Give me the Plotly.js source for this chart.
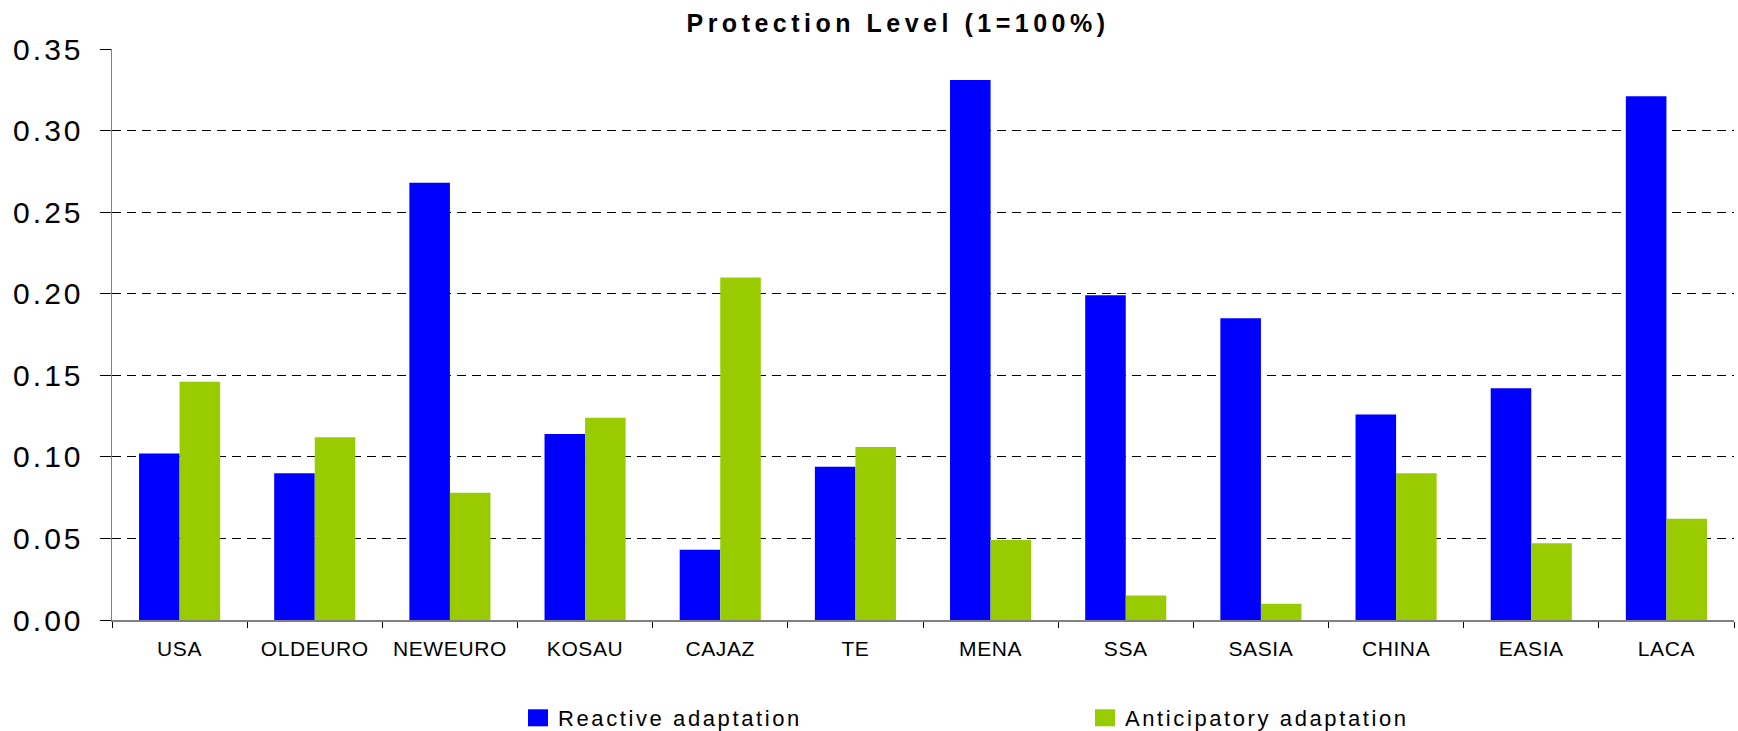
<!DOCTYPE html>
<html>
<head>
<meta charset="utf-8">
<script src="https://cdn.plot.ly/plotly-3.0.1.min.js"></script>
<style>
  html, body { margin: 0; padding: 0; background: #fff; }
  #chart { width: 1738px; height: 731px; }
  .gtitle { letter-spacing: 4.5px; }
  [class*="legend"] text { letter-spacing: 2.6px; }
  .legendpoints path { d: path("M10,8.5H-10V-8.5H10Z"); }
  .ytick text { letter-spacing: 3px; }
  .xtick text { letter-spacing: 0.6px; }
</style>
</head>
<body>
<div id="chart"></div>
<script>
// Regions shown along the category axis
const regions = ["USA", "OLDEURO", "NEWEURO", "KOSAU", "CAJAZ", "TE", "MENA", "SSA", "SASIA", "CHINA", "EASIA", "LACA"];

// Protection level per region (1 = 100%)
const reactive     = [0.102, 0.090, 0.268, 0.114, 0.043, 0.094, 0.331, 0.199, 0.185, 0.126, 0.142, 0.321];
const anticipatory = [0.146, 0.112, 0.078, 0.124, 0.210, 0.106, 0.049, 0.015, 0.010, 0.090, 0.047, 0.062];

// Value axis ticks
const yTicks = [0.00, 0.05, 0.10, 0.15, 0.20, 0.25, 0.30, 0.35];
const yTickText = yTicks.map(v => v.toFixed(2));

const W = 1738, H = 731;
const baseFont = "Liberation Sans, Arial, sans-serif";

const traces = [
  {
    type: "bar", name: "Reactive adaptation",
    x: regions, y: reactive,
    marker: { color: "#0000FF", line: { width: 0 } },
    legend: "legend"
  },
  {
    type: "bar", name: "Anticipatory adaptation",
    x: regions, y: anticipatory,
    marker: { color: "#99CC00", line: { width: 0 } },
    legend: "legend2"
  }
];

const legendFont = { family: baseFont, size: 22, color: "#000000" };

const layout = {
  width: W, height: H,
  paper_bgcolor: "#ffffff",
  plot_bgcolor: "#ffffff",
  font: { family: baseFont, color: "#000000" },
  margin: { l: 112, r: 4, t: 49, b: 111, pad: 0 },
  barmode: "group",
  bargap: 0.40,
  bargroupgap: 0,
  title: {
    text: "<b>Protection Level (1=100%)</b>",
    font: { family: baseFont, size: 25, color: "#000000" },
    xref: "container", x: 898 / W, xanchor: "center",
    yref: "container", y: 1 - 23 / H, yanchor: "middle"
  },
  xaxis: {
    type: "category",
    tickson: "boundaries",
    ticks: "outside", ticklen: 6, tickwidth: 1, tickcolor: "#000000",
    showline: true, linecolor: "#808080", linewidth: 1.5,
    showgrid: false, zeroline: false,
    tickfont: { family: baseFont, size: 21, color: "#000000" },
    ticklabelstandoff: 9
  },
  yaxis: {
    range: [0, 0.35],
    tickmode: "array", tickvals: yTicks, ticktext: yTickText,
    ticks: "outside", ticklen: 11, tickwidth: 1, tickcolor: "#000000",
    showline: true, linecolor: "#808080", linewidth: 1.5,
    showgrid: true, gridcolor: "#000000", gridwidth: 1, griddash: "9px,6px",
    zeroline: false,
    tickfont: { family: baseFont, size: 30, color: "#000000" },
    ticklabelstandoff: 10
  },
  showlegend: true,
  legend: {
    orientation: "h", entrywidth: 320,
    xref: "container", x: 518 / W, xanchor: "left",
    yref: "container", y: 1 - 718 / H, yanchor: "middle",
    font: legendFont,
    bgcolor: "rgba(0,0,0,0)", borderwidth: 0
  },
  legend2: {
    orientation: "h", entrywidth: 320,
    xref: "container", x: 1085 / W, xanchor: "left",
    yref: "container", y: 1 - 718 / H, yanchor: "middle",
    font: legendFont,
    bgcolor: "rgba(0,0,0,0)", borderwidth: 0
  }
};

Plotly.newPlot("chart", traces, layout, { displayModeBar: false, staticPlot: true });
</script>
</body>
</html>
